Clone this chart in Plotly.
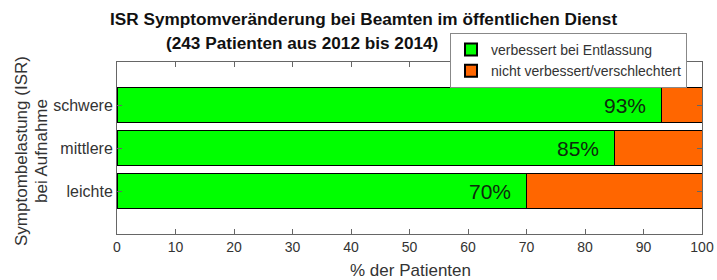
import plotly.graph_objects as go

categories = ["leichte", "mittlere", "schwere"]
cat_pos = [1, 2, 3]
improved = [70, 85, 93]
not_improved = [30, 15, 7]
labels = ["70%", "85%", "93%"]
x_ticks = [0, 10, 20, 30, 40, 50, 60, 70, 80, 90, 100]

FONT = "Liberation Sans, Arial, sans-serif"
GRAY = "#333333"

W, H = 717, 280
L, R, T, B = 117, 702, 62, 234
PW, PH = R - L, B - T


def px(xs):
    return (xs - L) / PW


def py(ys):
    return (B - ys) / PH


fig = go.Figure()
fig.add_trace(go.Bar(
    y=cat_pos, x=improved, orientation="h", width=0.8,
    name="verbessert bei Entlassung",
    marker=dict(color="#00ff00", line=dict(color="#000000", width=1)),
))
fig.add_trace(go.Bar(
    y=cat_pos, x=not_improved, orientation="h", width=0.8,
    name="nicht verbessert/verschlechtert",
    marker=dict(color="#ff6600", line=dict(color="#000000", width=1)),
))
for yv, xv, t in zip(cat_pos, improved, labels):
    fig.add_annotation(x=xv - 2.3, y=yv, text=t, xref="x", yref="y", xanchor="right",
                       showarrow=False, font=dict(family=FONT, size=21, color="#0d2a0d"))

fig.add_annotation(xref="paper", yref="paper", x=px(363), y=py(19),
                   text="<b>ISR Symptomveränderung bei Beamten im öffentlichen Dienst</b>",
                   showarrow=False, xanchor="center", yanchor="middle",
                   font=dict(family=FONT, size=17.2, color="#111111"))
fig.add_annotation(xref="paper", yref="paper", x=px(302), y=py(43),
                   text="<b>(243 Patienten aus 2012 bis 2014)</b>",
                   showarrow=False, xanchor="center", yanchor="middle",
                   font=dict(family=FONT, size=17.2, color="#111111"))

# axis titles
fig.add_annotation(xref="paper", yref="paper", x=px(410), y=py(270),
                   text="% der Patienten", showarrow=False, xanchor="center", yanchor="middle",
                   font=dict(family=FONT, size=17, color=GRAY))
fig.add_annotation(xref="paper", yref="paper", x=px(21), y=py(151),
                   text="Symptombelastung (ISR)", showarrow=False, textangle=-90,
                   xanchor="center", yanchor="middle",
                   font=dict(family=FONT, size=17, color=GRAY))
fig.add_annotation(xref="paper", yref="paper", x=px(41), y=py(151),
                   text="bei Aufnahme", showarrow=False, textangle=-90,
                   xanchor="center", yanchor="middle",
                   font=dict(family=FONT, size=17, color=GRAY))

fig.update_layout(
    width=W, height=H,
    margin=dict(l=L, r=W - R, t=T, b=H - B),
    barmode="stack",
    plot_bgcolor="white", paper_bgcolor="white",
    showlegend=True,
    legend=dict(x=px(450), y=py(33), xanchor="left", yanchor="top",
                bgcolor="white", bordercolor="#888888", borderwidth=1,
                font=dict(family=FONT, size=14, color=GRAY),
                traceorder="normal", tracegroupgap=0, itemsizing="constant"),
    font=dict(family=FONT, size=14, color=GRAY),
)
fig.update_xaxes(range=[0, 100], tickvals=x_ticks, ticks="inside", ticklen=5, tickcolor="#666",
                 showline=True, linecolor="#666", linewidth=1, mirror="ticks", showgrid=False,
                 zeroline=False, automargin=False,
                 tickfont=dict(family=FONT, size=14, color=GRAY))
fig.update_yaxes(range=[0, 4], tickvals=cat_pos, ticktext=categories, ticks="inside", ticklen=5,
                 tickcolor="#666", showline=True, linecolor="#666", linewidth=1, mirror="ticks",
                 showgrid=False, zeroline=False, automargin=False,
                 tickfont=dict(family=FONT, size=16, color=GRAY))

fig.write_html("out.html", config={"displayModeBar": False},
               post_script="document.body.style.margin='0';document.body.style.overflow='hidden';")
